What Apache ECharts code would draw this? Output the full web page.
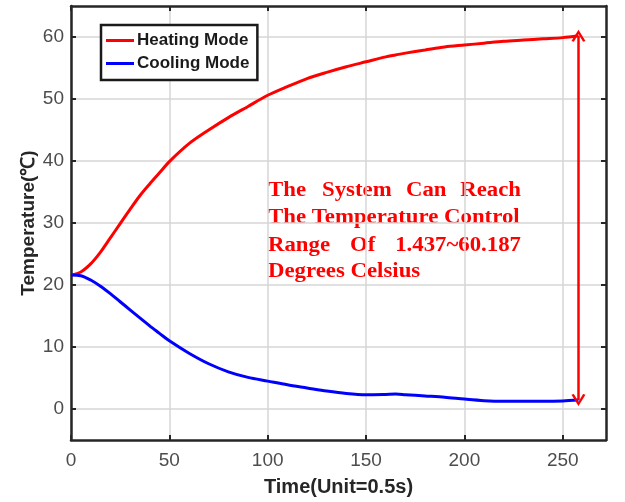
<!DOCTYPE html>
<html>
<head>
<meta charset="utf-8">
<style>html,body{margin:0;padding:0;background:#fff;}#chart{width:625px;height:502px;}</style>
<script src="https://cdn.jsdelivr.net/npm/echarts@6/dist/echarts.min.js"></script>
</head>
<body>
<div id="chart"></div>
<script>
const time = [0,5,10,15,20,25,30,35,40,45,50,60,70,80,90,100,110,120,130,140,150,160,165,170,180,190,200,210,220,230,240,250,258];
const heating = [21.6,22.1,23.4,25.3,27.6,29.9,32.2,34.4,36.3,38.1,39.9,42.8,45.0,47.0,48.8,50.6,52.0,53.3,54.3,55.2,56.0,56.8,57.1,57.4,57.9,58.4,58.7,59.0,59.3,59.5,59.7,59.9,60.187];
const cooling = [21.6,21.5,20.8,19.8,18.6,17.3,16.0,14.7,13.4,12.2,11.0,9.0,7.3,6.0,5.1,4.5,3.9,3.4,2.9,2.5,2.3,2.35,2.4,2.3,2.1,1.9,1.6,1.35,1.25,1.25,1.25,1.3,1.437];
const xTicks = [0,50,100,150,200,250];
const yTicks = [0,10,20,30,40,50,60];
const seriesNames = ['Heating Mode','Cooling Mode'];
const noteLines = [
  ['The','System','Can','Reach'],
  ['The Temperature Control'],
  ['Range','Of','1.437~60.187'],
  ['Degrees Celsius']
];

const chart = echarts.init(document.getElementById('chart'));
const axisColor = '#262626';
const gridColor = '#d6d6d6';
const font = '"Liberation Sans", Arial, sans-serif';

function xAx(pos, show) {
  return {
    type: 'value', position: pos, min: 0, max: 272,
    axisLine: { show: true, onZero: false, lineStyle: { color: axisColor, width: 2.5 } },
    axisTick: { show: true, inside: true, length: 5, customValues: xTicks, lineStyle: { color: axisColor, width: 2 } },
    axisLabel: { show: show, customValues: xTicks, color: '#4d4d4d', fontSize: 19, fontFamily: font, margin: 11 },
    splitLine: { show: show, lineStyle: { color: gridColor, width: 1.5 } },
    name: show ? 'Time(Unit=0.5s)' : '', nameLocation: 'middle', nameGap: 37, nameMoveOverlap: false,
    nameTextStyle: { color: axisColor, fontSize: 20, fontWeight: 'bold', fontFamily: font }
  };
}
function yAx(pos, show) {
  return {
    type: 'value', position: pos, min: -5, max: 65,
    axisLine: { show: true, onZero: false, lineStyle: { color: axisColor, width: 2.5 } },
    axisTick: { show: true, inside: true, length: 5, customValues: yTicks, lineStyle: { color: axisColor, width: 2 } },
    axisLabel: { show: show, customValues: yTicks, color: '#4d4d4d', fontSize: 19, fontFamily: font, margin: 7 },
    splitLine: { show: show, lineStyle: { color: gridColor, width: 1.5 } },
    name: show ? 'Temperature(℃)' : '', nameLocation: 'middle', nameGap: 33, nameMoveOverlap: false,
    nameTextStyle: { color: axisColor, fontSize: 19, fontWeight: 'bold', fontFamily: font }
  };
}

const n = time.length;
const arrowPath = 'path://M0,9 L5,0 L10,9 L8.3,9.6 L5,3.4 L1.7,9.6 Z';

// annotation: red serif text, first and third lines spread across the block width
const noteFont = 'bold 20px "Liberation Serif", "Times New Roman", serif';
const noteMid = [191, 218, 245.5, 271.5];
const wordPos = {
  0: [[268,'left'],[322,'left'],[406,'left'],[521,'right']],
  1: [[268,'left']],
  2: [[268,'left'],[350,'left'],[521,'right']],
  3: [[268,'left']]
};
const graphics = [];
noteLines.forEach((words, li) => {
  words.forEach((w, wi) => {
    const [x, al] = wordPos[li][wi];
    graphics.push({ type: 'text', x: x, y: noteMid[li], scaleX: 1.14, scaleY: 1,
      style: { text: w, fill: '#ff0000', align: al, verticalAlign: 'middle', font: noteFont } });
  });
});

chart.setOption({
  animation: false,
  backgroundColor: '#ffffff',
  grid: { left: 71, right: 19, top: 6, bottom: 62 },
  legend: {
    data: seriesNames, orient: 'vertical', left: 101, top: 25,
    backgroundColor: '#ffffff', borderColor: '#1a1a1a', borderWidth: 2.5, borderRadius: 0,
    padding: [7, 8, 8, 5], itemGap: 6, itemWidth: 28, itemHeight: 3, icon: 'rect',
    textStyle: { color: '#1a1a1a', fontSize: 17, fontWeight: 'bold', fontFamily: font, padding: [0,0,0,-2] }
  },
  xAxis: [xAx('bottom', true), xAx('top', false)],
  yAxis: [yAx('left', true), yAx('right', false)],
  graphic: graphics,
  series: [
    {
      name: seriesNames[0], type: 'line', showSymbol: false, smooth: 0.3,
      data: time.map((t, i) => [t, heating[i]]),
      lineStyle: { color: '#ff0000', width: 3 }, itemStyle: { color: '#ff0000' },
      markLine: {
        silent: true, symbol: [arrowPath, arrowPath], symbolSize: [14, 12],
        label: { show: false },
        lineStyle: { color: '#ff0000', width: 2.5, type: 'solid' },
        data: [[{ coord: [time[n-1], cooling[n-1]] }, { coord: [time[n-1], heating[n-1]] }]]
      }
    },
    {
      name: seriesNames[1], type: 'line', showSymbol: false, smooth: 0.3,
      data: time.map((t, i) => [t, cooling[i]]),
      lineStyle: { color: '#0000ff', width: 3 }, itemStyle: { color: '#0000ff' }
    }
  ]
});
</script>
</body>
</html>
